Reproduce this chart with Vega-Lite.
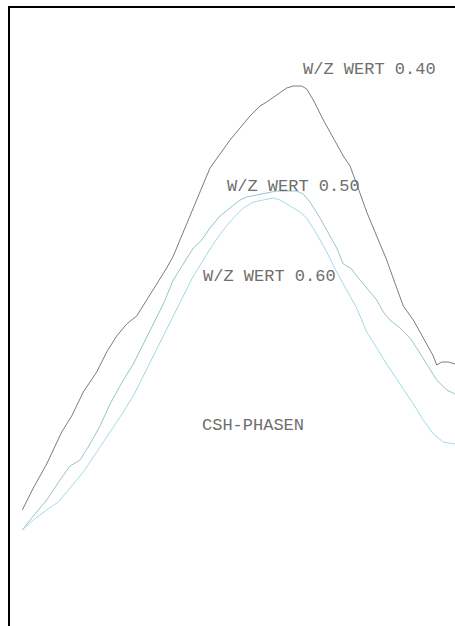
{
  "$schema": "https://vega.github.io/schema/vega-lite/v6.json",
  "width": 460,
  "height": 630,
  "autosize": {"type": "none"},
  "padding": {"left": 9, "top": 7, "right": 0, "bottom": 0},
  "background": "white",
  "config": {"view": {"stroke": "#000000", "strokeWidth": 2}},
  "datasets": {
    "curves": [
      {"s": "0.40", "x": 22.3, "y": 510}, {"s": "0.40", "x": 33.3, "y": 488}, {"s": "0.40", "x": 46.7, "y": 464}, {"s": "0.40", "x": 61.7, "y": 432}, {"s": "0.40", "x": 71.7, "y": 416}, {"s": "0.40", "x": 83.3, "y": 392}, {"s": "0.40", "x": 96.7, "y": 372}, {"s": "0.40", "x": 106.7, "y": 352}, {"s": "0.40", "x": 116.7, "y": 336}, {"s": "0.40", "x": 126.7, "y": 324}, {"s": "0.40", "x": 136.7, "y": 316}, {"s": "0.40", "x": 146.7, "y": 300}, {"s": "0.40", "x": 156.7, "y": 284}, {"s": "0.40", "x": 166.7, "y": 268}, {"s": "0.40", "x": 173.3, "y": 256}, {"s": "0.40", "x": 183.3, "y": 232}, {"s": "0.40", "x": 193.3, "y": 208}, {"s": "0.40", "x": 203.3, "y": 184}, {"s": "0.40", "x": 210, "y": 168}, {"s": "0.40", "x": 220, "y": 154}, {"s": "0.40", "x": 230, "y": 140}, {"s": "0.40", "x": 240, "y": 128}, {"s": "0.40", "x": 250, "y": 116}, {"s": "0.40", "x": 260, "y": 106}, {"s": "0.40", "x": 266.7, "y": 102}, {"s": "0.40", "x": 276.7, "y": 95}, {"s": "0.40", "x": 286.7, "y": 88}, {"s": "0.40", "x": 293.3, "y": 86}, {"s": "0.40", "x": 301.7, "y": 86}, {"s": "0.40", "x": 306.7, "y": 89}, {"s": "0.40", "x": 313.3, "y": 100}, {"s": "0.40", "x": 323.3, "y": 120}, {"s": "0.40", "x": 333.3, "y": 138}, {"s": "0.40", "x": 343.3, "y": 156}, {"s": "0.40", "x": 350, "y": 166}, {"s": "0.40", "x": 356.7, "y": 184}, {"s": "0.40", "x": 366.7, "y": 212}, {"s": "0.40", "x": 376.7, "y": 236}, {"s": "0.40", "x": 386.7, "y": 260}, {"s": "0.40", "x": 396.7, "y": 288}, {"s": "0.40", "x": 403.3, "y": 306}, {"s": "0.40", "x": 413.3, "y": 320}, {"s": "0.40", "x": 423.3, "y": 338}, {"s": "0.40", "x": 433.3, "y": 356}, {"s": "0.40", "x": 436.7, "y": 365}, {"s": "0.40", "x": 441.7, "y": 362}, {"s": "0.40", "x": 448.3, "y": 362}, {"s": "0.40", "x": 455, "y": 364},
      {"s": "0.50", "x": 22.3, "y": 530}, {"s": "0.50", "x": 33.3, "y": 516}, {"s": "0.50", "x": 46.7, "y": 500}, {"s": "0.50", "x": 60, "y": 480}, {"s": "0.50", "x": 70, "y": 466}, {"s": "0.50", "x": 80, "y": 460}, {"s": "0.50", "x": 90, "y": 444}, {"s": "0.50", "x": 100, "y": 426}, {"s": "0.50", "x": 110, "y": 404}, {"s": "0.50", "x": 123.3, "y": 380}, {"s": "0.50", "x": 133.3, "y": 364}, {"s": "0.50", "x": 143.3, "y": 344}, {"s": "0.50", "x": 153.3, "y": 324}, {"s": "0.50", "x": 163.3, "y": 304}, {"s": "0.50", "x": 173.3, "y": 280}, {"s": "0.50", "x": 183.3, "y": 264}, {"s": "0.50", "x": 193.3, "y": 248}, {"s": "0.50", "x": 201.7, "y": 240}, {"s": "0.50", "x": 210, "y": 228}, {"s": "0.50", "x": 220, "y": 216}, {"s": "0.50", "x": 230, "y": 208}, {"s": "0.50", "x": 240, "y": 200}, {"s": "0.50", "x": 246.7, "y": 197}, {"s": "0.50", "x": 256.7, "y": 195}, {"s": "0.50", "x": 266.7, "y": 193}, {"s": "0.50", "x": 276.7, "y": 191}, {"s": "0.50", "x": 286.7, "y": 191}, {"s": "0.50", "x": 296.7, "y": 191}, {"s": "0.50", "x": 303.3, "y": 194}, {"s": "0.50", "x": 310, "y": 202}, {"s": "0.50", "x": 320, "y": 218}, {"s": "0.50", "x": 330, "y": 236}, {"s": "0.50", "x": 336.7, "y": 248}, {"s": "0.50", "x": 343.3, "y": 264}, {"s": "0.50", "x": 346.7, "y": 266}, {"s": "0.50", "x": 351.7, "y": 269}, {"s": "0.50", "x": 356.7, "y": 276}, {"s": "0.50", "x": 366.7, "y": 288}, {"s": "0.50", "x": 376.7, "y": 300}, {"s": "0.50", "x": 383.3, "y": 312}, {"s": "0.50", "x": 390, "y": 320}, {"s": "0.50", "x": 400, "y": 328}, {"s": "0.50", "x": 410, "y": 338}, {"s": "0.50", "x": 416.7, "y": 348}, {"s": "0.50", "x": 426.7, "y": 364}, {"s": "0.50", "x": 436.7, "y": 380}, {"s": "0.50", "x": 446.7, "y": 390}, {"s": "0.50", "x": 455, "y": 394},
      {"s": "0.60", "x": 22.3, "y": 530}, {"s": "0.60", "x": 33.3, "y": 520}, {"s": "0.60", "x": 46.7, "y": 510}, {"s": "0.60", "x": 58.3, "y": 502}, {"s": "0.60", "x": 70, "y": 488}, {"s": "0.60", "x": 83.3, "y": 472}, {"s": "0.60", "x": 96.7, "y": 452}, {"s": "0.60", "x": 110, "y": 432}, {"s": "0.60", "x": 123.3, "y": 412}, {"s": "0.60", "x": 133.3, "y": 396}, {"s": "0.60", "x": 143.3, "y": 376}, {"s": "0.60", "x": 153.3, "y": 356}, {"s": "0.60", "x": 163.3, "y": 336}, {"s": "0.60", "x": 173.3, "y": 316}, {"s": "0.60", "x": 183.3, "y": 296}, {"s": "0.60", "x": 193.3, "y": 276}, {"s": "0.60", "x": 203.3, "y": 260}, {"s": "0.60", "x": 213.3, "y": 244}, {"s": "0.60", "x": 223.3, "y": 230}, {"s": "0.60", "x": 233.3, "y": 218}, {"s": "0.60", "x": 243.3, "y": 208}, {"s": "0.60", "x": 253.3, "y": 202}, {"s": "0.60", "x": 263.3, "y": 200}, {"s": "0.60", "x": 273.3, "y": 198}, {"s": "0.60", "x": 280, "y": 200}, {"s": "0.60", "x": 290, "y": 206}, {"s": "0.60", "x": 300, "y": 212}, {"s": "0.60", "x": 306.7, "y": 218}, {"s": "0.60", "x": 316.7, "y": 234}, {"s": "0.60", "x": 326.7, "y": 252}, {"s": "0.60", "x": 336.7, "y": 272}, {"s": "0.60", "x": 346.7, "y": 290}, {"s": "0.60", "x": 356.7, "y": 308}, {"s": "0.60", "x": 366.7, "y": 332}, {"s": "0.60", "x": 376.7, "y": 348}, {"s": "0.60", "x": 386.7, "y": 364}, {"s": "0.60", "x": 400, "y": 384}, {"s": "0.60", "x": 413.3, "y": 404}, {"s": "0.60", "x": 423.3, "y": 420}, {"s": "0.60", "x": 433.3, "y": 434}, {"s": "0.60", "x": 443.3, "y": 442}, {"s": "0.60", "x": 455, "y": 444}
    ],
    "labels": [
      {"text": "W/Z WERT 0.40", "x": 303, "y": 69},
      {"text": "W/Z WERT 0.50", "x": 227, "y": 186},
      {"text": "W/Z WERT 0.60", "x": 203, "y": 276},
      {"text": "CSH-PHASEN", "x": 202, "y": 425}
    ]
  },
  "layer": [
    {
      "data": {"name": "curves"},
      "mark": {"type": "line", "strokeWidth": 1, "clip": true},
      "encoding": {
        "x": {"field": "x", "type": "quantitative", "axis": null, "scale": {"domain": [9, 469], "nice": false, "zero": false}},
        "y": {"field": "y", "type": "quantitative", "axis": null, "scale": {"domain": [7, 637], "nice": false, "zero": false, "reverse": true}},
        "color": {"field": "s", "type": "nominal", "legend": null, "scale": {"domain": ["0.40", "0.50", "0.60"], "range": ["#7c7c7c", "#98c4ca", "#a4dce4"]}},
        "detail": {"field": "s"}
      }
    },
    {
      "data": {"name": "labels"},
      "mark": {"type": "text", "align": "left", "baseline": "middle", "font": "Liberation Mono", "fontSize": 17, "fill": "#6e6e6e"},
      "encoding": {
        "x": {"field": "x", "type": "quantitative", "axis": null},
        "y": {"field": "y", "type": "quantitative", "axis": null},
        "text": {"field": "text"}
      }
    }
  ]
}
